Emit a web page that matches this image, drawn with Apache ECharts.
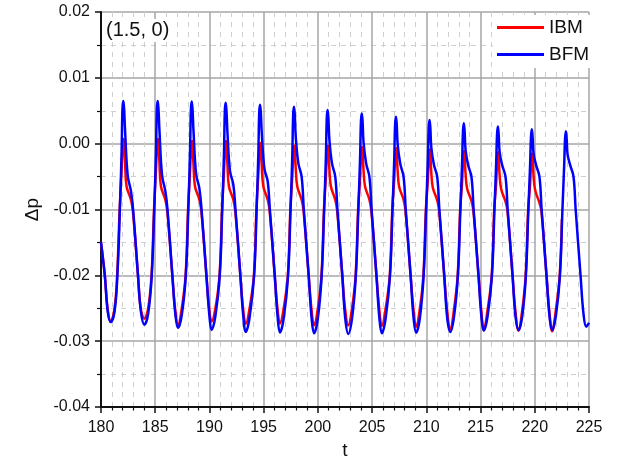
<!DOCTYPE html>
<html>
<head>
<meta charset="utf-8">
<title>pressure difference</title>
<script src="https://cdn.jsdelivr.net/npm/echarts@6/dist/echarts.min.js"></script>
<style>
  html, body { margin: 0; padding: 0; background: #fff; }
  #chart { width: 626px; height: 458px; }
</style>
</head>
<body>
<div id="chart"></div>
<script>
// curves, [t, dp]
var ibmData = [
  [180.00,-0.0150],[180.35,-0.0200],[180.62,-0.0252],
  [180.90,-0.0270],[181.25,-0.0250],[181.49,-0.0200],[181.72,-0.0100],[181.90,-0.0040],[182.00,-0.0003],[182.09,0.0007],[182.21,-0.0026],[182.36,-0.0065],[182.76,-0.0085],[182.94,-0.0102],[183.41,-0.0200],[183.66,-0.0250],
  [184.00,-0.0266],[184.35,-0.0250],[184.66,-0.0200],[184.89,-0.0100],[185.07,-0.0040],[185.17,-0.0003],[185.26,0.0007],[185.38,-0.0026],[185.53,-0.0065],[185.93,-0.0085],[186.11,-0.0102],[186.58,-0.0200],[186.83,-0.0250],
  [187.10,-0.0275],[187.45,-0.0250],[187.80,-0.0200],[188.03,-0.0100],[188.21,-0.0043],[188.31,-0.0006],[188.40,0.0004],[188.52,-0.0029],[188.67,-0.0065],[189.07,-0.0085],[189.25,-0.0102],[189.72,-0.0200],[189.97,-0.0250],
  [190.20,-0.0270],[190.55,-0.0250],[190.93,-0.0200],[191.16,-0.0100],[191.34,-0.0043],[191.44,-0.0006],[191.53,0.0004],[191.65,-0.0029],[191.80,-0.0065],[192.20,-0.0085],[192.38,-0.0102],[192.85,-0.0200],[193.10,-0.0250],
  [193.35,-0.0274],[193.70,-0.0250],[194.10,-0.0200],[194.33,-0.0100],[194.51,-0.0046],[194.61,-0.0009],[194.70,0.0001],[194.82,-0.0032],[194.97,-0.0065],[195.37,-0.0085],[195.55,-0.0102],[196.02,-0.0200],[196.27,-0.0250],
  [196.50,-0.0273],[196.85,-0.0250],[197.23,-0.0200],[197.46,-0.0100],[197.64,-0.0050],[197.74,-0.0013],[197.83,-0.0003],[197.95,-0.0036],[198.10,-0.0065],[198.50,-0.0085],[198.68,-0.0102],[199.15,-0.0200],[199.40,-0.0250],
  [199.65,-0.0276],[200.00,-0.0250],[200.33,-0.0200],[200.56,-0.0100],[200.74,-0.0050],[200.84,-0.0013],[200.93,-0.0003],[201.05,-0.0036],[201.20,-0.0065],[201.60,-0.0085],[201.78,-0.0102],[202.25,-0.0200],[202.50,-0.0250],
  [202.80,-0.0276],[203.15,-0.0250],[203.48,-0.0200],[203.71,-0.0100],[203.89,-0.0052],[203.99,-0.0015],[204.08,-0.0005],[204.20,-0.0038],[204.35,-0.0065],[204.75,-0.0085],[204.93,-0.0102],[205.40,-0.0200],[205.65,-0.0250],
  [205.90,-0.0277],[206.25,-0.0250],[206.63,-0.0200],[206.86,-0.0100],[207.04,-0.0054],[207.14,-0.0017],[207.23,-0.0007],[207.35,-0.0040],[207.50,-0.0066],[207.90,-0.0085],[208.08,-0.0102],[208.55,-0.0200],[208.80,-0.0250],
  [209.06,-0.0278],[209.41,-0.0250],[209.73,-0.0200],[209.96,-0.0100],[210.14,-0.0056],[210.24,-0.0019],[210.33,-0.0009],[210.45,-0.0042],[210.60,-0.0067],[211.00,-0.0086],[211.18,-0.0102],[211.65,-0.0200],[211.90,-0.0250],
  [212.20,-0.0283],[212.55,-0.0252],[212.89,-0.0200],[213.12,-0.0100],[213.30,-0.0058],[213.40,-0.0021],[213.49,-0.0011],[213.61,-0.0044],[213.76,-0.0068],[214.16,-0.0087],[214.34,-0.0102],[214.81,-0.0200],[215.06,-0.0252],
  [215.30,-0.0283],[215.65,-0.0252],[216.03,-0.0200],[216.26,-0.0100],[216.44,-0.0060],[216.54,-0.0023],[216.63,-0.0013],[216.75,-0.0046],[216.90,-0.0069],[217.30,-0.0088],[217.48,-0.0102],[217.95,-0.0200],[218.20,-0.0252],
  [218.50,-0.0284],[218.85,-0.0252],[219.16,-0.0200],[219.39,-0.0100],[219.57,-0.0062],[219.67,-0.0025],[219.76,-0.0015],[219.88,-0.0048],[220.03,-0.0070],[220.43,-0.0090],[220.61,-0.0102],[221.08,-0.0200],[221.33,-0.0252],
  [221.60,-0.0285],[221.95,-0.0252],[222.30,-0.0200],[222.50,-0.0115]
];

var bfmData = [
  [180.00,-0.0150],[180.35,-0.0200],[180.62,-0.0255],
  [180.90,-0.0271],[181.25,-0.0255],[181.51,-0.0200],[181.74,-0.0100],[181.90,-0.0012],[181.98,0.0053],[182.06,0.0065],[182.13,0.0053],[182.22,0.0020],[182.46,-0.0048],[182.76,-0.0072],[182.96,-0.0100],[183.41,-0.0200],[183.68,-0.0255],
  [184.00,-0.0275],[184.35,-0.0258],[184.68,-0.0200],[184.91,-0.0100],[185.07,-0.0012],[185.15,0.0053],[185.23,0.0065],[185.30,0.0053],[185.39,0.0020],[185.63,-0.0048],[185.93,-0.0072],[186.13,-0.0100],[186.58,-0.0200],[186.85,-0.0258],
  [187.10,-0.0280],[187.45,-0.0260],[187.82,-0.0200],[188.05,-0.0100],[188.21,-0.0012],[188.29,0.0052],[188.37,0.0064],[188.44,0.0052],[188.53,0.0019],[188.77,-0.0046],[189.07,-0.0068],[189.27,-0.0100],[189.72,-0.0200],[189.99,-0.0260],
  [190.20,-0.0283],[190.55,-0.0262],[190.95,-0.0200],[191.18,-0.0100],[191.34,-0.0015],[191.42,0.0050],[191.50,0.0062],[191.57,0.0050],[191.66,0.0017],[191.90,-0.0042],[192.20,-0.0062],[192.40,-0.0100],[192.85,-0.0200],[193.12,-0.0262],
  [193.35,-0.0286],[193.70,-0.0264],[194.12,-0.0200],[194.35,-0.0100],[194.51,-0.0015],[194.59,0.0047],[194.67,0.0059],[194.74,0.0047],[194.83,0.0015],[195.07,-0.0038],[195.37,-0.0057],[195.57,-0.0100],[196.02,-0.0200],[196.29,-0.0264],
  [196.50,-0.0287],[196.85,-0.0265],[197.25,-0.0200],[197.48,-0.0100],[197.64,-0.0018],[197.72,0.0044],[197.80,0.0056],[197.87,0.0044],[197.96,0.0010],[198.20,-0.0030],[198.50,-0.0050],[198.70,-0.0100],[199.15,-0.0200],[199.42,-0.0265],
  [199.65,-0.0288],[200.00,-0.0265],[200.35,-0.0200],[200.58,-0.0100],[200.74,-0.0020],[200.82,0.0039],[200.90,0.0051],[200.97,0.0039],[201.06,0.0006],[201.30,-0.0030],[201.60,-0.0050],[201.80,-0.0100],[202.25,-0.0200],[202.52,-0.0265],
  [202.80,-0.0289],[203.15,-0.0265],[203.50,-0.0200],[203.73,-0.0100],[203.89,-0.0022],[203.97,0.0034],[204.05,0.0046],[204.12,0.0034],[204.21,0.0002],[204.45,-0.0030],[204.75,-0.0050],[204.95,-0.0100],[205.40,-0.0200],[205.67,-0.0265],
  [205.90,-0.0288],[206.25,-0.0265],[206.65,-0.0200],[206.88,-0.0100],[207.04,-0.0024],[207.12,0.0029],[207.20,0.0041],[207.27,0.0029],[207.36,-0.0002],[207.60,-0.0031],[207.90,-0.0050],[208.10,-0.0100],[208.55,-0.0200],[208.82,-0.0264],
  [209.06,-0.0287],[209.41,-0.0264],[209.75,-0.0200],[209.98,-0.0100],[210.14,-0.0026],[210.22,0.0024],[210.30,0.0036],[210.37,0.0024],[210.46,-0.0006],[210.70,-0.0032],[211.00,-0.0050],[211.20,-0.0100],[211.65,-0.0200],[211.92,-0.0264],
  [212.20,-0.0286],[212.55,-0.0263],[212.91,-0.0200],[213.14,-0.0100],[213.30,-0.0028],[213.38,0.0019],[213.46,0.0031],[213.53,0.0019],[213.62,-0.0010],[213.86,-0.0033],[214.16,-0.0050],[214.36,-0.0100],[214.81,-0.0200],[215.08,-0.0263],
  [215.30,-0.0284],[215.65,-0.0262],[216.05,-0.0200],[216.28,-0.0100],[216.44,-0.0030],[216.52,0.0014],[216.60,0.0026],[216.67,0.0014],[216.76,-0.0013],[217.00,-0.0033],[217.30,-0.0050],[217.50,-0.0100],[217.95,-0.0200],[218.22,-0.0262],
  [218.50,-0.0283],[218.85,-0.0261],[219.18,-0.0200],[219.41,-0.0100],[219.57,-0.0032],[219.65,0.0010],[219.73,0.0022],[219.80,0.0010],[219.89,-0.0015],[220.13,-0.0033],[220.43,-0.0050],[220.63,-0.0100],[221.08,-0.0200],[221.35,-0.0261],
  [221.60,-0.0283],[221.95,-0.0261],[222.32,-0.0200],[222.55,-0.0100],[222.71,-0.0033],[222.79,0.0007],[222.87,0.0019],[222.94,0.0007],[223.03,-0.0017],[223.27,-0.0033],[223.57,-0.0050],[223.77,-0.0100],[224.22,-0.0200],[224.49,-0.0258],
  [224.75,-0.0278],[225.00,-0.0272]
];

var seriesNames = ['IBM', 'BFM'];
var caseLabel = '(1.5, 0)';

var font = 'Liberation Sans, Arial, sans-serif';

var chart = echarts.init(document.getElementById('chart'));
chart.setOption({
  animation: false,
  grid: { left: 101, right: 37, top: 12, bottom: 51, outerBoundsMode: 'none' },
  legend: {
    data: seriesNames,
    left: 493,
    top: 15,
    orient: 'vertical',
    icon: 'rect',
    itemWidth: 47,
    itemHeight: 3,
    itemGap: 2,
    padding: [0, 12, 1, 4],
    backgroundColor: '#fff',
    textStyle: { fontFamily: font, fontSize: 19, color: '#111', lineHeight: 25 }
  },
  graphic: [{
    type: 'text',
    left: 104,
    top: 19,
    z: 10,
    style: {
      text: caseLabel,
      font: '20px ' + font,
      fill: '#111',
      backgroundColor: '#fff',
      padding: [1, 2, 2, 2]
    }
  }],
  xAxis: {
    type: 'value',
    min: 180, max: 225, interval: 5,
    name: 't',
    nameLocation: 'middle',
    nameGap: 27,
    nameTextStyle: { fontFamily: font, fontSize: 19, color: '#111' },
    axisLine: { show: true, onZero: false, lineStyle: { color: '#111', width: 2 } },
    axisTick: { show: true, inside: false, length: 6, lineStyle: { color: '#111', width: 1.5 } },
    minorTick: { show: true, splitNumber: 5, length: 3.5, lineStyle: { color: '#111', width: 1.2 } },
    axisLabel: { fontFamily: font, fontSize: 16, color: '#111', margin: 13 },
    splitLine: { show: true, lineStyle: { color: '#a6a6a6', width: 1.5 } },
    minorSplitLine: { show: true, lineStyle: { color: '#cfcfcf', width: 1, type: [5, 5] } }
  },
  yAxis: {
    type: 'value',
    min: -0.04, max: 0.02, interval: 0.01,
    name: 'Δp',
    nameLocation: 'middle',
    nameRotate: 90,
    nameGap: 58,
    nameTextStyle: { fontFamily: font, fontSize: 19, color: '#111' },
    axisLine: { show: true, onZero: false, lineStyle: { color: '#111', width: 2 } },
    axisTick: { show: true, inside: false, length: 6, lineStyle: { color: '#111', width: 1.5 } },
    minorTick: { show: true, splitNumber: 2, length: 4, lineStyle: { color: '#111', width: 1.2 } },
    axisLabel: {
      fontFamily: font, fontSize: 16, color: '#111', margin: 11,
      formatter: function (v) {
        if (Math.abs(v) < 1e-9) v = 0;
        return v.toFixed(2);
      }
    },
    splitLine: { show: true, lineStyle: { color: '#a6a6a6', width: 1.5 } },
    minorSplitLine: { show: true, lineStyle: { color: '#cfcfcf', width: 1, type: [5, 5] } }
  },
  series: [
    {
      name: seriesNames[0],
      type: 'line',
      data: ibmData,
      showSymbol: false,
      symbol: 'none',
      smooth: 0.4,
      color: '#ff0000',
      lineStyle: { color: '#ff0000', width: 2.5 }
    },
    {
      name: seriesNames[1],
      type: 'line',
      data: bfmData,
      showSymbol: false,
      symbol: 'none',
      smooth: 0.4,
      color: '#0000ff',
      lineStyle: { color: '#0000ff', width: 2.5 }
    }
  ]
});
</script>
</body>
</html>
